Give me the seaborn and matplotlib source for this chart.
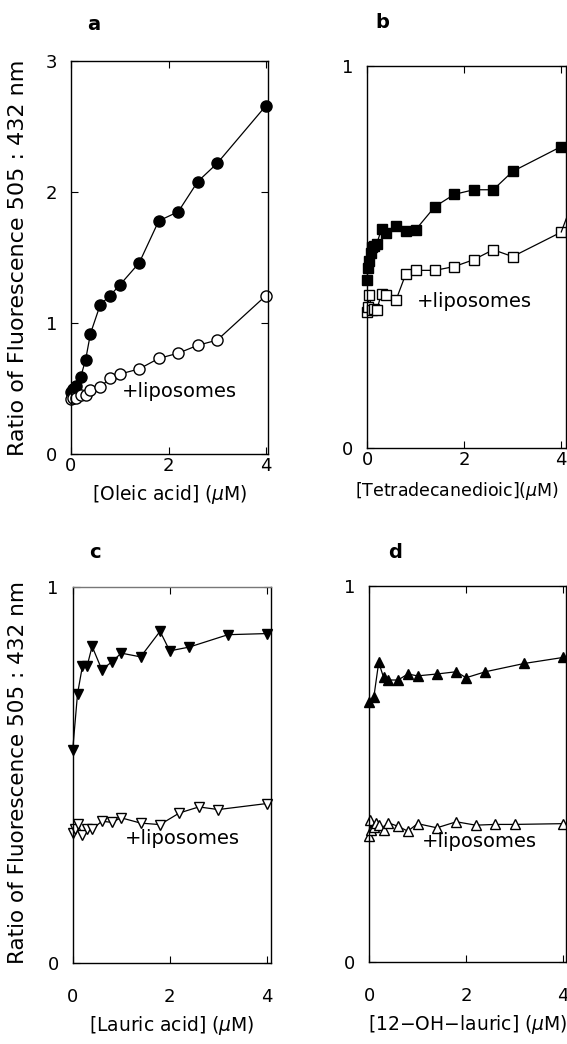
import matplotlib
matplotlib.use("Agg")
import matplotlib.pyplot as plt
import seaborn as sns

sns.set_style("ticks")
plt.rcParams['font.family'] = ['DejaVu Sans']
plt.rcParams['text.color'] = 'black'
plt.rcParams['axes.labelcolor'] = 'black'
plt.rcParams['xtick.color'] = 'black'
plt.rcParams['ytick.color'] = 'black'

# panel a: oleic acid
oleic_x = [0, 0.05, 0.1, 0.2, 0.3, 0.4, 0.6, 0.8, 1.0, 1.4, 1.8, 2.2, 2.6, 3.0, 4.0]
oleic_y = [0.47, 0.50, 0.52, 0.59, 0.72, 0.92, 1.14, 1.21, 1.29, 1.46, 1.78, 1.85, 2.08, 2.22, 2.66]
oleic_lipo_x = [0, 0.05, 0.1, 0.2, 0.3, 0.4, 0.6, 0.8, 1.0, 1.4, 1.8, 2.2, 2.6, 3.0, 4.0]
oleic_lipo_y = [0.42, 0.43, 0.43, 0.45, 0.45, 0.49, 0.51, 0.58, 0.61, 0.65, 0.73, 0.77, 0.83, 0.87, 1.21]

# panel b: tetradecanedioic acid
tetra_x = [0, 0.02, 0.05, 0.08, 0.1, 0.15, 0.2, 0.3, 0.4, 0.6, 0.8, 1.0, 1.4, 1.8, 2.2, 2.6, 3.0, 4.0]
tetra_y = [0.44, 0.47, 0.49, 0.51, 0.525, 0.53, 0.535, 0.573, 0.562, 0.58, 0.569, 0.571,
           0.632, 0.664, 0.676, 0.676, 0.724, 0.789]
tetra_lipo_x = [0, 0.02, 0.05, 0.1, 0.15, 0.2, 0.3, 0.4, 0.6, 0.8, 1.0, 1.4, 1.8, 2.2, 2.6, 3.0, 4.0]
tetra_lipo_y = [0.355, 0.37, 0.40, 0.36, 0.365, 0.362, 0.404, 0.401, 0.388, 0.456, 0.465,
                0.465, 0.475, 0.493, 0.519, 0.501, 0.565]
tetra_lipo_tail_x = [4.0, 4.4]
tetra_lipo_tail_y = [0.565, 0.70]

# panel c: lauric acid
lauric_x = [0, 0.1, 0.2, 0.3, 0.4, 0.6, 0.8, 1.0, 1.4, 1.8, 2.0, 2.4, 3.2, 4.0]
lauric_y = [0.566, 0.716, 0.789, 0.791, 0.842, 0.78, 0.80, 0.824, 0.814, 0.882, 0.83, 0.84, 0.873, 0.876]
lauric_lipo_x = [0, 0.05, 0.1, 0.2, 0.3, 0.4, 0.6, 0.8, 1.0, 1.4, 1.8, 2.2, 2.6, 3.0, 4.0]
lauric_lipo_y = [0.346, 0.355, 0.37, 0.341, 0.355, 0.355, 0.377, 0.374, 0.386, 0.372, 0.368,
                 0.399, 0.415, 0.408, 0.424]

# panel d: 12-OH-lauric acid
ohlauric_x = [0, 0.1, 0.2, 0.3, 0.4, 0.6, 0.8, 1.0, 1.4, 1.8, 2.0, 2.4, 3.2, 4.0]
ohlauric_y = [0.692, 0.705, 0.797, 0.757, 0.75, 0.75, 0.766, 0.761, 0.766, 0.772, 0.756, 0.772, 0.794, 0.81]
ohlauric_lipo_x = [0, 0.02, 0.05, 0.1, 0.15, 0.2, 0.3, 0.4, 0.6, 0.8, 1.0, 1.4, 1.8, 2.2, 2.6, 3.0, 4.0]
ohlauric_lipo_y = [0.335, 0.377, 0.35, 0.36, 0.37, 0.364, 0.35, 0.37, 0.361, 0.348, 0.368,
                   0.357, 0.373, 0.364, 0.366, 0.366, 0.368]


def draw(ax, x, y, marker, filled, ms=7):
    fc = 'black' if filled else 'white'
    sns.lineplot(x=x, y=y, ax=ax, color='black', lw=0.9, marker=marker, markersize=ms,
                 markerfacecolor=fc, markeredgecolor='black', markeredgewidth=1,
                 estimator=None, sort=False, clip_on=False)


def style(ax, xmax, ymax, yticks, xlabel, tickpad, xlabsize=13.5):
    ax.set_xlim(0, xmax)
    ax.set_ylim(0, ymax)
    ax.set_xticks([0, 2, 4])
    ax.set_yticks(yticks)
    ax.tick_params(direction='in', top=True, right=True, length=5, width=0.8,
                   labelsize=13, color='black')
    ax.tick_params(axis='x', pad=tickpad)
    ax.tick_params(axis='y', pad=10)
    for s in ax.spines.values():
        s.set_linewidth(1.0)
        s.set_color('black')
    ax.set_xlabel(xlabel, fontsize=xlabsize, labelpad=6)
    ax.set_ylabel('')


fig = plt.figure(figsize=(5.67, 10.44), dpi=100)

ax_a = fig.add_axes([0.1252, 0.5651, 0.3474, 0.3764])
ax_b = fig.add_axes([0.6473, 0.5709, 0.3510, 0.3659])
ax_c = fig.add_axes([0.1282, 0.0776, 0.3492, 0.3602])
ax_d = fig.add_axes([0.6508, 0.0785, 0.3474, 0.3602])

draw(ax_a, oleic_x, oleic_y, 'o', True, 8)
draw(ax_a, oleic_lipo_x, oleic_lipo_y, 'o', False, 8)
style(ax_a, 4.04, 3, [0, 1, 2, 3], r'[Oleic acid] ($\mu$M)', 2)
ax_a.text(1.05, 0.48, '+liposomes', fontsize=14, va='center', ha='left')

draw(ax_b, tetra_x, tetra_y, 's', True, 6.5)
draw(ax_b, tetra_lipo_x, tetra_lipo_y, 's', False, 6.5)
sns.lineplot(x=tetra_lipo_tail_x, y=tetra_lipo_tail_y, ax=ax_b, color='black', lw=0.9,
             estimator=None, sort=False)
style(ax_b, 4.1, 1, [0, 1], r'[Tetradecanedioic]($\mu$M)', 2, xlabsize=12.5)
ax_b.xaxis.set_label_coords(0.45, -0.085)
ax_b.text(1.02, 0.384, '+liposomes', fontsize=14, va='center', ha='left')

draw(ax_c, lauric_x, lauric_y, 'v', True, 7.5)
draw(ax_c, lauric_lipo_x, lauric_lipo_y, 'v', False, 7.5)
style(ax_c, 4.08, 1, [0, 1], r'[Lauric acid] ($\mu$M)', 18)
ax_c.spines['top'].set_color('#777777')
ax_c.text(1.08, 0.33, '+liposomes', fontsize=14, va='center', ha='left')

draw(ax_d, ohlauric_x, ohlauric_y, '^', True, 7.5)
draw(ax_d, ohlauric_lipo_x, ohlauric_lipo_y, '^', False, 7.5)
style(ax_d, 4.06, 1, [0, 1], r'[12$-$OH$-$lauric] ($\mu$M)', 18)
ax_d.text(1.08, 0.32, '+liposomes', fontsize=14, va='center', ha='left')

# panel letters
fig.text(94 / 567, 1 - 25 / 1044, 'a', fontsize=14, fontweight='bold', ha='center', va='center')
fig.text(382 / 567, 1 - 22 / 1044, 'b', fontsize=14, fontweight='bold', ha='center', va='center')
fig.text(95 / 567, 1 - 553 / 1044, 'c', fontsize=14, fontweight='bold', ha='center', va='center')
fig.text(395 / 567, 1 - 552 / 1044, 'd', fontsize=14, fontweight='bold', ha='center', va='center')

# shared y labels
ylab = 'Ratio of Fluorescence 505 : 432 nm'
fig.text(18 / 567, 1 - 258 / 1044, ylab, rotation=90, fontsize=16, ha='center', va='center')
fig.text(18 / 567, 1 - 773 / 1044, ylab, rotation=90, fontsize=15.5, ha='center', va='center')

fig.savefig('out.png', dpi=100)
